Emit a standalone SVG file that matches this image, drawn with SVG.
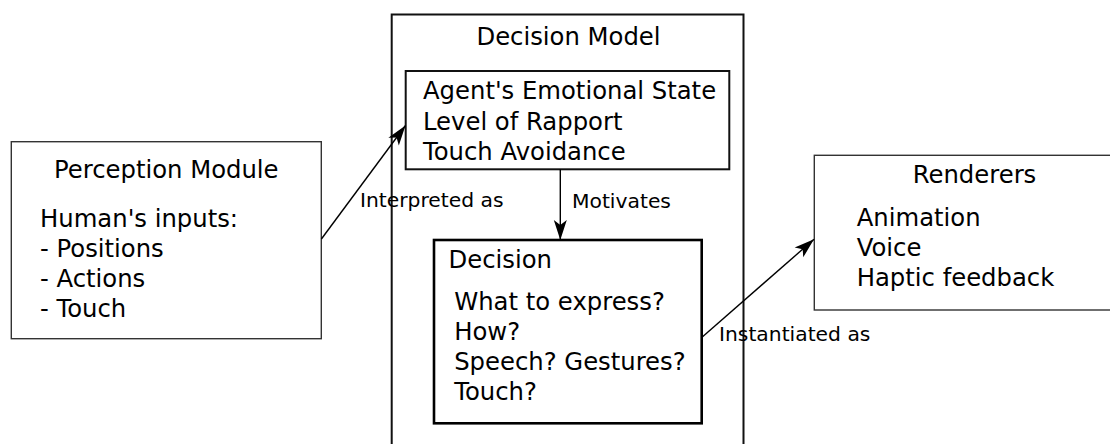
<svg xmlns="http://www.w3.org/2000/svg" width="1110" height="444" viewBox="0 0 1110 444">
  <style>
    .big { font-family: "DejaVu Sans", "Liberation Sans", sans-serif; font-size: 24.3px; fill: #000; }
    .lbl { font-family: "DejaVu Sans", "Liberation Sans", sans-serif; font-size: 20.3px; fill: #000; }
    .thin { fill: #fff; stroke: #333; stroke-width: 1.4; }
    .mid { fill: none; stroke: #111; stroke-width: 2; }
    .thick { fill: #fff; stroke: #000; stroke-width: 2.6; }
    .conn { fill: none; stroke: #000; stroke-width: 1.4; marker-end: url(#arrow); }
  </style>
  <defs>
    <marker id="arrow" markerUnits="userSpaceOnUse" viewBox="-22 -8 24 16" refX="0" refY="0" markerWidth="24" markerHeight="16" orient="auto">
      <path d="M0,0 L-20,-6.5 L-15,0 L-20,6.5 Z" fill="#000"/>
    </marker>
  </defs>
  <rect width="1110" height="444" fill="#fff"/>

  <g id="perception">
    <rect class="thin" x="11.3" y="141.7" width="310" height="197"/>
    <text class="big" x="166.3" y="178.3" text-anchor="middle">Perception Module</text>
    <text class="big" x="40" y="226.7">Human's inputs:</text>
    <text class="big" x="40" y="256.7">- Positions</text>
    <text class="big" x="40" y="286.7">- Actions</text>
    <text class="big" x="40" y="316.7">- Touch</text>
  </g>

  <g id="decision-model">
    <path class="mid" d="M391.7,460 V14.5 H743.5 V460"/>
    <text class="big" x="568.5" y="45" text-anchor="middle">Decision Model</text>
  </g>

  <g id="state">
    <rect class="mid" x="405.7" y="71" width="323.6" height="98.3" fill="#fff"/>
    <text class="big" x="423" y="99">Agent's Emotional State</text>
    <text class="big" x="423" y="129.5">Level of Rapport</text>
    <text class="big" x="423" y="160">Touch Avoidance</text>
  </g>

  <g id="decision">
    <rect class="thick" x="434" y="240" width="267.7" height="183.3"/>
    <text class="big" x="448.5" y="267.7">Decision</text>
    <text class="big" x="454.2" y="310">What to express?</text>
    <text class="big" x="454.2" y="340">How?</text>
    <text class="big" x="454.2" y="370">Speech? Gestures?</text>
    <text class="big" x="454.2" y="400">Touch?</text>
  </g>

  <g id="renderers">
    <rect class="thin" x="814.3" y="155.3" width="300" height="154.7"/>
    <text class="big" x="974.5" y="183.3" text-anchor="middle">Renderers</text>
    <text class="big" x="856.7" y="225.7">Animation</text>
    <text class="big" x="856.7" y="256">Voice</text>
    <text class="big" x="856.7" y="286.3">Haptic feedback</text>
  </g>

  <g id="connectors">
    <line class="conn" x1="321.4" y1="239" x2="405.5" y2="125.5"/>
    <text class="lbl" x="360" y="207.3">Interpreted as</text>
    <line class="conn" x1="560.3" y1="169.3" x2="560.3" y2="240"/>
    <text class="lbl" x="572" y="208.3">Motivates</text>
    <line class="conn" x1="701.7" y1="337.5" x2="814" y2="239.3"/>
    <text class="lbl" x="719" y="341">Instantiated as</text>
  </g>
</svg>
